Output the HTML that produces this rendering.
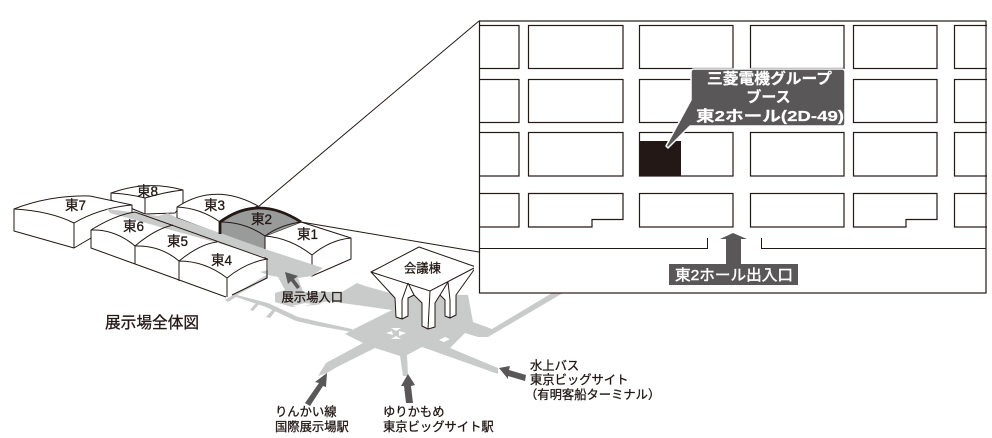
<!DOCTYPE html>
<html lang="ja"><head><meta charset="utf-8"><style>
html,body{margin:0;padding:0;background:#fff;width:992px;height:438px;overflow:hidden}
svg{display:block}
text{font-family:"Liberation Sans","Noto Sans CJK JP",sans-serif;fill:#231815;stroke:#231815;stroke-width:.3}
.hf{fill:#fff;stroke:none}
.h{fill:#fff;stroke:#231815;stroke-width:1;stroke-linejoin:round}
.l{fill:none;stroke:#231815;stroke-width:1}
.b{fill:#fff;stroke:#231815;stroke-width:1.2}
text.w{fill:#fff;stroke:#fff;font-weight:700;stroke-width:.2}
text.m{fill:#fff;stroke:#fff;stroke-width:.45}
.a{fill:#595757}
.g{fill:#c9caca}
</style></head><body>
<svg width="992" height="438" viewBox="0 0 992 438" xmlns="http://www.w3.org/2000/svg">
<!-- back halls -->
<path class="h" d="M111 193Q147 180 183 190V203L175 213L145 214L111 200Z"/>
<path class="l" d="M111 193Q130 194 145 198Q165 192 183 190M145 198V214"/>
<path class="h" d="M14 209Q50 195 90 196L132 205V214L74 248L14 231Z"/>
<path class="l" d="M14 209Q50 211 74 223Q100 208 132 205M74 223V248"/>
<path class="h" d="M177 207Q215 182 258 206L220 222V234L177 218Z"/>
<path class="l" d="M177 207Q200 208 220 222"/>
<path class="h" d="M265 236L301 222L351 238V259L312 276L265 258Z"/>
<path class="l" d="M265 236Q290 238 312 255Q330 240 351 238M312 255V276"/>
<path d="M220 222Q258 194 301 222L265 236V250L220 233Z" fill="#999a9a"/>
<path class="l" d="M220 222Q245 222 265 236Q280 225 301 222M265 236V250"/>
<!-- hall row fill -->
<path class="hf" d="M91 230Q115 215 135 212L267 259V277L226 297L91 248Z"/>
<!-- grey walkways -->
<path class="g" d="M107 209L131 212L158 216L168 213L177 218L220 233L265 249L323 268L312 276L298 278L303 292L342 292L357 283L365 286L390 293L468 295L473 322L492 329L552 293L563 293L488 337L478 337L465 333L450 348L498 368L498 374L422 347L407 355L408 376L403 376L400 356L375 348L337 367L327 373L318 376L326 363L363 343L345 334L352 330L392 310L335 302L315 305L292 307L275 302L275 293L285 290L278 277L268 275L260 272L268 270L268 258L218 243L110 213Z"/>
<path class="g" d="M225 300L268 274V278L237 295L268 303L298 317L320 322L352 329V332L318 326L296 321L266 307L236 297L228 302Z"/>
<path class="g" d="M250 310L257 302L260 303L253 311ZM266 317L274 308L277 309L270 318Z"/>
<path fill="#fff" d="M386 333L392 331L393 335ZM399 331L406 333L399 336ZM391 328L396 331L401 328ZM391 339L396 336L401 339ZM439 340L445 337L450 339L444 342ZM292 306L305 303L312 304L300 307ZM318 303L332 301L335 302L322 304Z"/>
<!-- hall row lines -->
<path class="l" d="M91 230Q115 215 135 212L267 259V278L232 295M226 297L91 248V230"/>
<path class="l" d="M91 230Q115 229 135 246Q155 229 173 225M135 246V264M135 246Q160 245 179 261Q200 244 217 242M179 261V281M179 261Q205 261 227 278Q245 263 267 259M227 278V297"/>
<path d="M220 234V222Q258 194 301 222" fill="none" stroke="#231815" stroke-width="2.8"/>
<!-- conference building -->
<path class="h" d="M371 272L395 298L396 317L402 319L408 316V298L414 295L422 303V326L428 329L435 327V303L440 295L445 300V316L450 318L456 315V295L476 267L419 247Z"/>
<path class="l" d="M371 272L430 291L476 267M408 283L402 300V319M408 283L414 295M430 291L428 329M448 282L440 295M448 282L450 300V318"/>
<!-- plan -->
<rect x="479.500" y="21" width="506.500" height="272" fill="#fff"/>
<g class="b">
<rect x="475" y="25.500" width="44" height="43"/><rect x="475" y="79.500" width="44" height="43"/><rect x="475" y="132.500" width="44" height="43.500"/><rect x="475" y="193.500" width="44" height="33.500"/>
<rect x="528.500" y="25.500" width="94.500" height="43"/><rect x="528.500" y="79.500" width="94.500" height="43"/><rect x="528.500" y="132.500" width="94.500" height="43.500"/>
<path d="M528.500 193.500H623V219.500H592V227H528.500Z"/>
<rect x="639.500" y="25.500" width="93.500" height="43"/><rect x="639.500" y="79.500" width="93.500" height="43"/><rect x="639.500" y="132.500" width="93.500" height="43.500"/><rect x="639.500" y="193.500" width="93.500" height="33.500"/>
<rect x="750.500" y="25.500" width="93.500" height="43"/><rect x="750.500" y="132.500" width="93.500" height="43.500"/><rect x="750.500" y="193.500" width="93.500" height="33.500"/>
<rect x="853.500" y="25.500" width="83.500" height="43"/><rect x="853.500" y="79.500" width="83.500" height="43"/><rect x="853.500" y="132.500" width="83.500" height="43.500"/>
<path d="M853.500 193.500H937V219.500H906V227H853.500Z"/>
<rect x="954.500" y="25.500" width="40" height="43"/><rect x="954.500" y="79.500" width="40" height="43"/><rect x="954.500" y="132.500" width="40" height="43.500"/><rect x="954.500" y="193.500" width="40" height="33.500"/>
</g>
<path d="M474 20H479V294H474ZM987 20H992V294H987Z" fill="#fff"/>
<path class="l" d="M258 207L479 21M301 222L479 252"/>
<rect x="479.500" y="21" width="506.500" height="272" fill="none" stroke="#231815" stroke-width="1.2"/>
<path class="l" d="M479 248.500H707.500V238M986 248.500H761.500V238"/>
<rect x="639" y="141" width="42" height="35" fill="#231815"/>
<path class="a" d="M694 69H842Q845 69 845 72V123Q845 126 842 126H690L668 148L666 146L691 100V72Q691 69 694 69Z" stroke="#fff" stroke-width="1.500" stroke-linejoin="round"/>
<text class="w" x="707" y="83.500" font-size="15" textLength="125" lengthAdjust="spacingAndGlyphs">三菱電機グループ</text>
<text class="w" x="768.500" y="102" font-size="15" text-anchor="middle">ブース</text>
<text class="w" x="696" y="121" font-size="15" textLength="148" lengthAdjust="spacingAndGlyphs">東2ホール(2D-49)</text>
<path class="a" d="M733 233L747 239H741V265H726V239H720Z"/>
<rect class="a" x="669" y="264" width="129" height="21"/>
<text class="m" x="675" y="280" font-size="15" textLength="118" lengthAdjust="spacingAndGlyphs">東2ホール出入口</text>
<!-- arrows -->
<path class="a" d="M285 272L298 276L294 279L300 287L297 289L291 281L288 284Z"/>
<path class="a" d="M327 373L326 387L323 386L310 406L305 403L319 383L315 382Z"/>
<path class="a" d="M408 374L415 385L411 386L413 403L406 403L404 386L401 386Z"/>
<path class="a" d="M499 368L510 366L509 370L526 375L525 381L508 376V379Z"/>
<!-- labels -->
<g font-size="13.500">
<text x="65" y="210">東7</text><text x="137" y="196">東8</text><text x="204" y="210">東3</text><text x="251" y="224">東2</text>
<text x="297" y="239">東1</text><text x="123" y="231">東6</text><text x="167" y="246">東5</text><text x="211" y="265">東4</text>
</g>
<text x="281.500" y="301.500" font-size="12.300">展示場入口</text>
<text x="105" y="328" font-size="15.700">展示場全体図</text>
<text x="404" y="272.500" font-size="12.300">会議棟</text>
<g font-size="12.300">
<text x="275" y="416">りんかい線</text><text x="275" y="431">国際展示場駅</text>
<text x="383" y="416">ゆりかもめ</text><text x="383" y="431">東京ビッグサイト駅</text>
<text x="530" y="370">水上バス</text><text x="530" y="384">東京ビッグサイト</text><text x="525" y="399">（有明客船ターミナル）</text>
</g>
</svg>
</body></html>
